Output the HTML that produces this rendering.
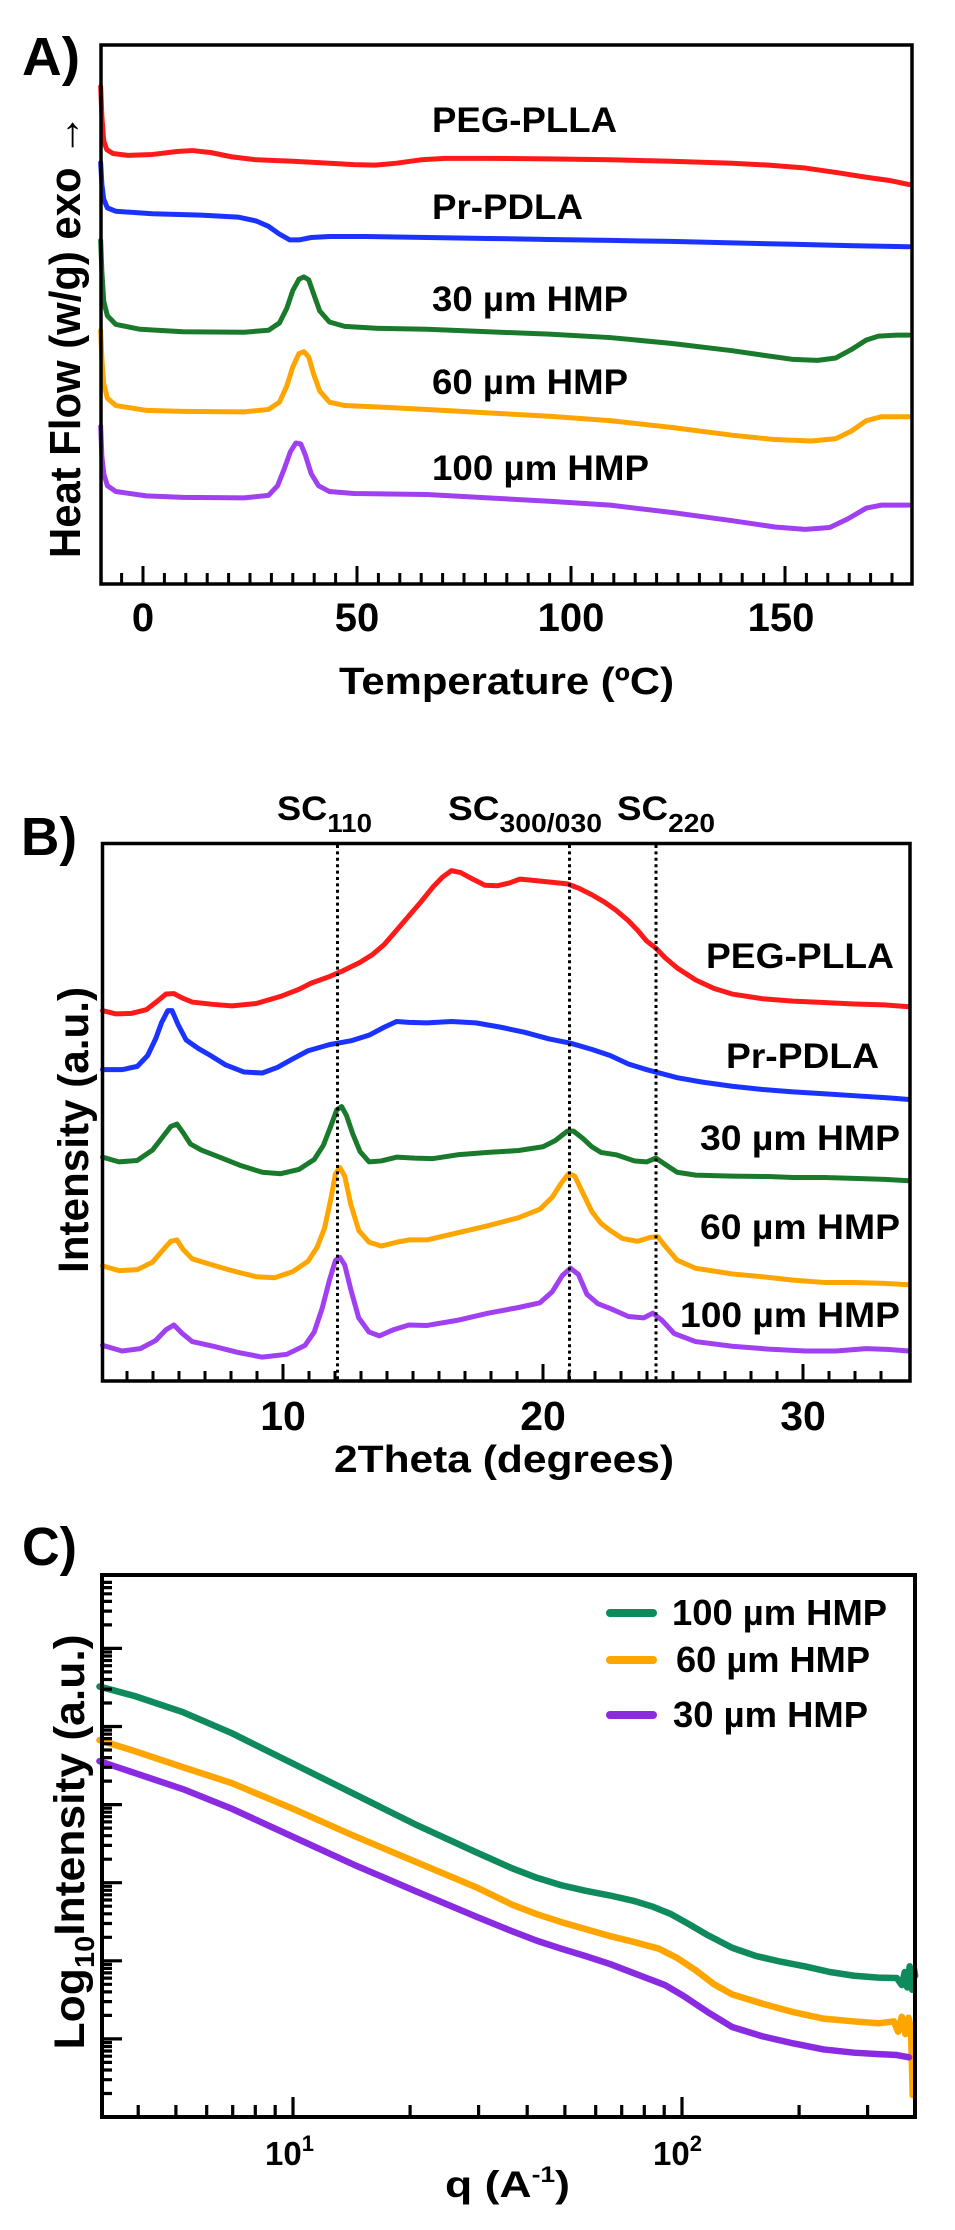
<!DOCTYPE html>
<html>
<head>
<meta charset="utf-8">
<style>
html,body{margin:0;padding:0;background:#fff;}
svg{display:block;}
text{font-family:"Liberation Sans",Arial,sans-serif;font-weight:bold;fill:#000;}
.c{fill:none;stroke-linejoin:round;stroke-linecap:round;}
</style>
</head>
<body>
<svg width="955" height="2230" viewBox="0 0 955 2230" xmlns="http://www.w3.org/2000/svg">
<rect width="955" height="2230" fill="#fff"/>

<!-- ================= PANEL A ================= -->
<text x="22" y="75" font-size="54" textLength="58" lengthAdjust="spacingAndGlyphs">A)</text>
<text transform="translate(80,336) rotate(-90)" text-anchor="middle" font-size="44" textLength="444" lengthAdjust="spacingAndGlyphs">Heat Flow (w/g) exo <tspan font-weight="normal">→</tspan></text>

<g transform="scale(0.6101,0.4857)">
<path class="c" vector-effect="non-scaling-stroke" stroke="#ff1a1a" stroke-width="5" d="M165,178 L167,240 L170,290 L175,308 L185,316 L210,320 L250,318 L290,312 L315,310 L345,314 L380,323 L420,329 L480,332 L540,336 L580,339 L615,340 L650,336 L690,329 L730,326 L800,326 L900,327 L1000,329 L1100,332 L1200,336 L1260,340 L1320,346 L1370,355 L1420,365 L1460,372 L1490,380"/>
<path class="c" vector-effect="non-scaling-stroke" stroke="#1a33ff" stroke-width="5" d="M165,335 L167,380 L170,410 L176,428 L190,435 L250,440 L330,443 L390,447 L420,455 L440,466 L458,482 L475,494 L490,494 L510,489 L540,487 L600,487 L700,489 L800,491 L900,493 L1000,495 L1100,497 L1200,500 L1300,503 L1400,506 L1490,508"/>
<path class="c" vector-effect="non-scaling-stroke" stroke="#1a7a2c" stroke-width="5" d="M165,495 L167,560 L170,620 L176,650 L190,668 L230,678 L300,683 L400,684 L440,680 L458,665 L470,635 L480,598 L490,575 L498,570 L506,576 L514,605 L524,640 L540,663 L565,672 L620,676 L700,678 L800,683 L900,688 L1000,695 L1100,707 L1200,722 L1260,733 L1300,740 L1340,742 L1370,737 L1395,720 L1420,700 L1440,692 L1470,690 L1490,690"/>
<path class="c" vector-effect="non-scaling-stroke" stroke="#ffa500" stroke-width="5" d="M165,680 L167,740 L170,790 L176,820 L190,835 L240,845 L300,847 L400,848 L440,843 L458,828 L470,795 L480,755 L490,728 L498,724 L506,735 L514,770 L524,805 L540,828 L565,835 L620,838 L700,843 L800,850 L900,857 L1000,866 L1100,880 L1200,896 L1270,905 L1330,908 L1370,903 L1395,888 L1420,866 L1445,858 L1490,858"/>
<path class="c" vector-effect="non-scaling-stroke" stroke="#a040f0" stroke-width="5" d="M165,878 L167,940 L170,975 L176,1000 L190,1012 L240,1021 L300,1024 L400,1025 L440,1020 L455,1000 L466,965 L476,930 L485,912 L493,914 L500,935 L510,975 L522,1000 L540,1012 L580,1016 L700,1018 L800,1025 L900,1032 L1000,1040 L1100,1055 L1200,1072 L1270,1085 L1320,1090 L1360,1086 L1390,1068 L1420,1046 L1445,1040 L1490,1040"/>
</g>

<rect x="101" y="45" width="811" height="539" fill="none" stroke="#000" stroke-width="3.5"/>
<path stroke="#000" stroke-width="3" fill="none" d="M121.6 584v-11 M164.4 584v-11 M185.8 584v-11 M207.2 584v-11 M228.6 584v-11 M250 584v-11 M271.4 584v-11 M292.8 584v-11 M314.2 584v-11 M335.6 584v-11 M378.4 584v-11 M399.8 584v-11 M421.2 584v-11 M442.6 584v-11 M464 584v-11 M485.4 584v-11 M506.8 584v-11 M528.2 584v-11 M549.6 584v-11 M592.4 584v-11 M613.8 584v-11 M635.2 584v-11 M656.6 584v-11 M678 584v-11 M699.4 584v-11 M720.8 584v-11 M742.2 584v-11 M763.6 584v-11 M806.4 584v-11 M827.8 584v-11 M849.2 584v-11 M870.6 584v-11 M892 584v-11 M143 584v-18 M357 584v-18 M571 584v-18 M785 584v-18"/>
<g font-size="40" text-anchor="middle">
<text x="143" y="631">0</text>
<text x="357" y="631">50</text>
<text x="571" y="631">100</text>
<text x="781" y="631">150</text>
</g>
<text x="339" y="694" font-size="38" textLength="335" lengthAdjust="spacingAndGlyphs">Temperature (ºC)</text>

<g font-size="35">
<text x="432" y="132" textLength="185" lengthAdjust="spacingAndGlyphs">PEG-PLLA</text>
<text x="432" y="219" textLength="151" lengthAdjust="spacingAndGlyphs">Pr-PDLA</text>
<text x="432" y="311" textLength="196" lengthAdjust="spacingAndGlyphs">30 µm HMP</text>
<text x="432" y="394" textLength="196" lengthAdjust="spacingAndGlyphs">60 µm HMP</text>
<text x="432" y="480" textLength="217" lengthAdjust="spacingAndGlyphs">100 µm HMP</text>
</g>

<!-- ================= PANEL B ================= -->
<text x="21" y="855" font-size="54" textLength="56" lengthAdjust="spacingAndGlyphs">B)</text>
<text transform="translate(88,1130) rotate(-90)" text-anchor="middle" font-size="43" textLength="286" lengthAdjust="spacingAndGlyphs">Intensity (a.u.)</text>

<text x="277" y="820" font-size="34" textLength="95" lengthAdjust="spacingAndGlyphs">SC<tspan font-size="26" dy="12">110</tspan></text>
<text x="448" y="820" font-size="34" textLength="154" lengthAdjust="spacingAndGlyphs">SC<tspan font-size="26" dy="12">300/030</tspan></text>
<text x="617" y="820" font-size="34" textLength="98" lengthAdjust="spacingAndGlyphs">SC<tspan font-size="26" dy="12">220</tspan></text>

<g transform="translate(0,760) scale(0.6101,0.4728)">
<path class="c" vector-effect="non-scaling-stroke" stroke="#ff1a1a" stroke-width="5" d="M168,530 L190,537 L215,536 L240,528 L258,510 L272,495 L285,494 L298,503 L315,512 L350,517 L380,520 L420,515 L460,500 L490,485 L510,472 L540,458 L560,447 L590,428 L610,412 L630,390 L650,360 L670,330 L690,300 L710,268 L725,248 L740,234 L755,238 L775,252 L795,265 L815,266 L835,260 L852,252 L870,254 L900,258 L930,262 L950,272 L970,285 L990,300 L1010,318 L1030,340 L1045,360 L1060,383 L1075,398 L1090,418 L1110,440 L1140,465 L1170,483 L1200,495 L1250,505 L1300,510 L1350,513 L1400,516 L1450,518 L1490,522"/>
<path class="c" vector-effect="non-scaling-stroke" stroke="#1a33ff" stroke-width="5" d="M168,655 L200,655 L225,648 L242,625 L255,590 L265,555 L275,530 L282,530 L292,560 L305,592 L325,610 L345,625 L370,645 L400,660 L430,662 L455,650 L480,632 L505,615 L540,602 L575,594 L605,582 L630,565 L650,553 L670,555 L700,556 L740,553 L780,556 L820,565 L860,576 L900,590 L935,599 L970,612 L1000,625 L1030,643 L1060,655 L1075,660 L1110,672 L1150,681 L1200,690 L1250,697 L1300,702 L1350,706 L1400,710 L1450,714 L1490,718"/>
<path class="c" vector-effect="non-scaling-stroke" stroke="#1a7a2c" stroke-width="5" d="M168,840 L195,850 L225,847 L250,825 L268,795 L280,775 L290,770 L300,788 L312,812 L330,825 L360,840 L395,858 L430,872 L460,875 L490,866 L515,845 L530,815 L542,775 L552,740 L560,733 L568,752 L578,790 L590,828 L605,850 L625,848 L650,840 L680,842 L710,843 L750,835 L800,830 L850,826 L890,818 L910,805 L930,785 L940,785 L955,800 L970,818 L985,830 L1010,835 L1040,848 L1060,850 L1075,842 L1090,855 L1110,872 L1140,878 L1200,880 L1260,881 L1300,883 L1350,883 L1400,885 L1450,887 L1490,890"/>
<path class="c" vector-effect="non-scaling-stroke" stroke="#ffa500" stroke-width="5" d="M168,1070 L195,1080 L225,1078 L250,1062 L268,1035 L280,1018 L290,1015 L300,1035 L315,1055 L340,1065 L380,1080 L420,1093 L450,1095 L480,1082 L505,1060 L520,1030 L532,990 L542,930 L550,875 L557,862 L565,880 L575,940 L588,995 L605,1020 L625,1028 L650,1020 L670,1015 L700,1015 L750,1000 L800,985 L850,968 L885,950 L905,925 L920,895 L932,875 L942,880 L955,915 L970,955 L985,980 L1000,995 L1020,1012 L1045,1018 L1065,1010 L1078,1008 L1090,1028 L1110,1058 L1140,1075 L1200,1087 L1250,1093 L1300,1100 L1350,1105 L1400,1105 L1450,1107 L1490,1110"/>
<path class="c" vector-effect="non-scaling-stroke" stroke="#a040f0" stroke-width="5" d="M168,1238 L200,1250 L230,1245 L255,1228 L272,1205 L285,1195 L298,1212 L315,1230 L350,1240 L390,1253 L430,1263 L470,1257 L500,1238 L515,1210 L528,1160 L540,1100 L550,1058 L557,1052 L565,1068 L575,1120 L588,1180 L605,1210 L622,1218 L645,1205 L670,1195 L700,1196 L750,1185 L800,1170 L850,1158 L885,1148 L905,1125 L922,1090 L935,1075 L948,1088 L962,1130 L980,1150 L1000,1160 L1030,1177 L1055,1180 L1070,1170 L1085,1185 L1105,1213 L1140,1230 L1200,1240 L1260,1246 L1320,1250 L1370,1250 L1420,1245 L1460,1247 L1490,1250"/>
</g>

<g stroke="#000" stroke-width="3" stroke-dasharray="3 3.4" fill="none">
<path d="M337.5 845V1380"/>
<path d="M569.5 845V1380"/>
<path d="M656 845V1380"/>
</g>

<rect x="102.5" y="843.5" width="807.5" height="537.5" fill="none" stroke="#000" stroke-width="3.5"/>
<path stroke="#000" stroke-width="3" fill="none" d="M127 1381v-10 M153 1381v-10 M179 1381v-10 M205 1381v-10 M231 1381v-10 M257 1381v-10 M309 1381v-10 M335 1381v-10 M361 1381v-10 M387 1381v-10 M413 1381v-10 M439 1381v-10 M465 1381v-10 M491 1381v-10 M517 1381v-10 M569 1381v-10 M595 1381v-10 M621 1381v-10 M647 1381v-10 M673 1381v-10 M699 1381v-10 M725 1381v-10 M751 1381v-10 M777 1381v-10 M829 1381v-10 M855 1381v-10 M881 1381v-10 M283 1381v-17 M543 1381v-17 M803 1381v-17"/>
<g font-size="41" text-anchor="middle">
<text x="283" y="1430">10</text>
<text x="543" y="1430">20</text>
<text x="803" y="1430">30</text>
</g>
<text x="334" y="1472" font-size="38" textLength="340" lengthAdjust="spacingAndGlyphs">2Theta (degrees)</text>

<g font-size="35">
<text x="706" y="968" textLength="188" lengthAdjust="spacingAndGlyphs">PEG-PLLA</text>
<text x="726" y="1068" textLength="153" lengthAdjust="spacingAndGlyphs">Pr-PDLA</text>
<text x="700" y="1150" textLength="200" lengthAdjust="spacingAndGlyphs">30 µm HMP</text>
<text x="700" y="1239" textLength="200" lengthAdjust="spacingAndGlyphs">60 µm HMP</text>
<text x="680" y="1327" textLength="220" lengthAdjust="spacingAndGlyphs">100 µm HMP</text>
</g>

<!-- ================= PANEL C ================= -->
<text x="22" y="1565" font-size="54" textLength="55" lengthAdjust="spacingAndGlyphs">C)</text>
<text transform="translate(84,1842) rotate(-90)" text-anchor="middle" font-size="43" textLength="415" lengthAdjust="spacingAndGlyphs">Log<tspan font-size="28" dy="10">10</tspan><tspan dy="-10">Intensity (a.u.)</tspan></text>

<g transform="translate(0,1500) scale(0.6101,0.4664)">
<path class="c" vector-effect="non-scaling-stroke" stroke="#0e8a5c" stroke-width="6.5" d="M163,400 L220,420 L300,455 L380,500 L480,565 L580,630 L680,695 L780,755 L840,790 L880,810 L920,826 L960,838 L1000,848 L1040,860 L1070,872 L1100,888 L1130,910 L1160,933 L1200,960 L1240,978 L1280,990 L1320,1000 L1360,1012 L1400,1020 L1440,1024 L1470,1025 L1478,1040 L1483,1012 L1487,1045 L1491,1000 L1495,1050 L1498,1005 L1500,1020"/>
<path class="c" vector-effect="non-scaling-stroke" stroke="#ffa500" stroke-width="6.5" d="M163,515 L220,538 L300,573 L380,607 L480,662 L580,720 L680,775 L780,830 L840,868 L880,888 L920,905 L960,920 L1000,935 L1040,948 L1080,962 L1110,982 L1140,1008 L1170,1038 L1200,1060 L1250,1080 L1300,1098 L1350,1112 L1400,1118 L1440,1122 L1465,1118 L1472,1140 L1478,1108 L1484,1145 L1489,1110 L1493,1130 L1496,1276"/>
<path class="c" vector-effect="non-scaling-stroke" stroke="#8a2be2" stroke-width="6.5" d="M163,560 L220,585 L300,620 L380,662 L480,722 L580,782 L680,838 L780,893 L840,925 L880,945 L920,962 L960,978 L1000,995 L1050,1020 L1090,1040 L1120,1063 L1160,1098 L1200,1130 L1250,1150 L1300,1165 L1350,1178 L1400,1185 L1440,1188 L1470,1190 L1490,1195"/>
</g>

<rect x="102" y="1575" width="813" height="542" fill="none" stroke="#000" stroke-width="4"/>
<path stroke="#000" stroke-width="3.2" fill="none" d="M138.2 2117v-12 M175.9 2117v-12 M206.7 2117v-12 M232.7 2117v-12 M255.3 2117v-12 M275.2 2117v-12 M410.1 2117v-12 M478.6 2117v-12 M527.2 2117v-12 M564.9 2117v-12 M595.7 2117v-12 M621.7 2117v-12 M644.3 2117v-12 M664.2 2117v-12 M799.1 2117v-12 M867.6 2117v-12 M293 2117v-20 M682 2117v-20"/>
<path stroke="#000" stroke-width="3.2" fill="none" d="M102 2093.5h10 M102 2079.7h10 M102 2070h10 M102 2062.4h10 M102 2056.2h10 M102 2051h10 M102 2046.5h10 M102 2042.5h10 M102 2038.9h20
M102 2015.4h10 M102 2001.6h10 M102 1991.9h10 M102 1984.3h10 M102 1978.1h10 M102 1972.9h10 M102 1968.4h10 M102 1964.4h10 M102 1960.8h20
M102 1937.3h10 M102 1923.5h10 M102 1913.8h10 M102 1906.2h10 M102 1900h10 M102 1894.8h10 M102 1890.3h10 M102 1886.3h10 M102 1882.7h20
M102 1859.2h10 M102 1845.4h10 M102 1835.7h10 M102 1828.1h10 M102 1821.9h10 M102 1816.7h10 M102 1812.2h10 M102 1808.2h10 M102 1804.6h20
M102 1781.1h10 M102 1767.3h10 M102 1757.6h10 M102 1750h10 M102 1743.8h10 M102 1738.6h10 M102 1734.1h10 M102 1730.1h10 M102 1726.5h20
M102 1703h10 M102 1689.2h10 M102 1679.5h10 M102 1671.9h10 M102 1665.7h10 M102 1660.5h10 M102 1656h10 M102 1652h10 M102 1648.4h20
M102 1624.9h10 M102 1611.1h10 M102 1601.4h10 M102 1593.8h10 M102 1587.6h10 M102 1582.4h10"/>
<text x="265" y="2165" font-size="33">10<tspan font-size="22" dy="-14">1</tspan></text>
<text x="653" y="2165" font-size="33">10<tspan font-size="22" dy="-14">2</tspan></text>
<text x="445" y="2197" font-size="37" textLength="125" lengthAdjust="spacingAndGlyphs">q (A<tspan font-size="22" dy="-15">-1</tspan><tspan dy="15">)</tspan></text>

<g stroke-width="8" stroke-linecap="round">
<line x1="610" y1="1613" x2="653" y2="1613" stroke="#0e8a5c"/>
<line x1="610" y1="1660" x2="653" y2="1660" stroke="#ffa500"/>
<line x1="610" y1="1715" x2="653" y2="1715" stroke="#8a2be2"/>
</g>
<g font-size="36">
<text x="672" y="1625" textLength="215" lengthAdjust="spacingAndGlyphs">100 µm HMP</text>
<text x="676" y="1672" textLength="194" lengthAdjust="spacingAndGlyphs">60 µm HMP</text>
<text x="673" y="1727" textLength="195" lengthAdjust="spacingAndGlyphs">30 µm HMP</text>
</g>
</svg>
</body>
</html>
